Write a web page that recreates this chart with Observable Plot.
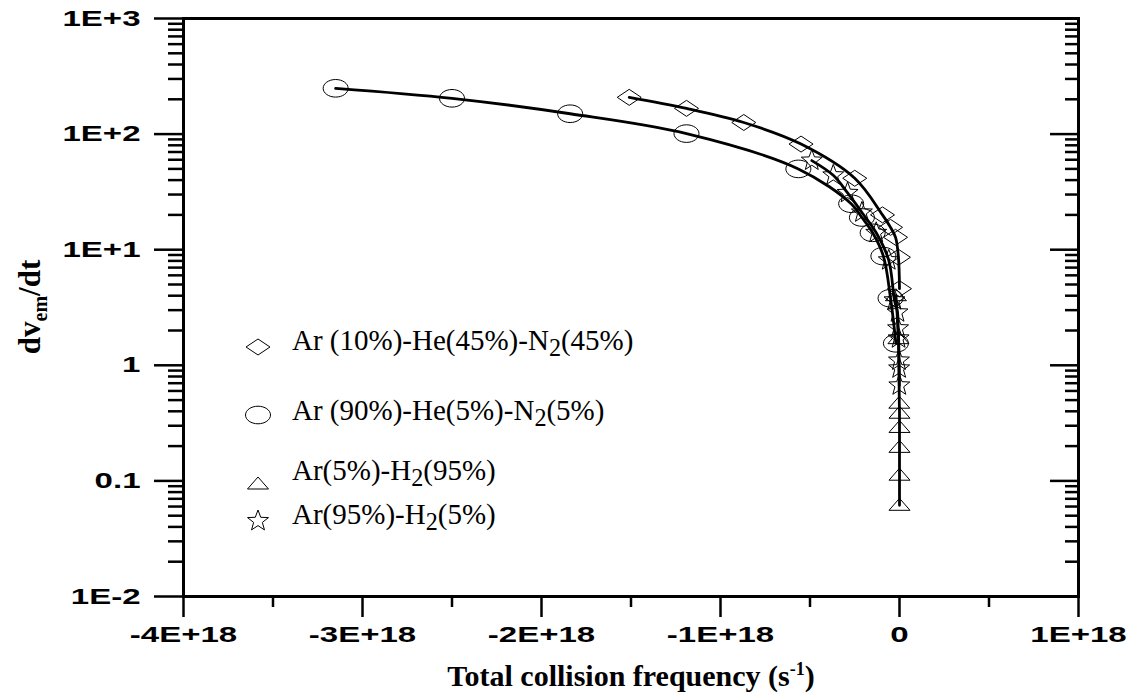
<!DOCTYPE html>
<html><head><meta charset="utf-8">
<script src="https://cdn.jsdelivr.net/npm/d3@7"></script>
<script src="https://cdn.jsdelivr.net/npm/@observablehq/plot@0.6"></script>
<style>
body{margin:0;background:#fff;}
#wrap{position:relative;width:1140px;height:698px;overflow:hidden;}
.ov{position:absolute;white-space:nowrap;color:#000;}
.serif{font-family:"Liberation Serif","Times New Roman",serif;}
.bold{font-weight:bold;}
sub,sup{line-height:0;}
</style></head><body><div id="wrap"></div>
<script>
// ---- data (x in s^-1, y = dv_em/dt) ----
const diamondX=[-1.51e18,-1.19e18,-0.87e18,-0.55e18,-0.25e18,-0.095e18,-0.05e18,-0.022e18,-0.006e18,0];
const diamondY=[208,167,126,82,41.5,20,15.6,12.8,8.6,4.6];
const circleX=[-3.15e18,-2.50e18,-1.84e18,-1.19e18,-0.565e18,-0.27e18,-0.21e18,-0.15e18,-0.09e18,-0.05e18,-0.02e18];
const circleY=[249,204,150,101,50,25,19,14,8.8,3.8,1.55];
const triX=[-0.02e18,-0.006e18,-0.001e18,0,0,0,0,0];
const triY=[4.0,1.7,0.47,0.385,0.29,0.195,0.112,0.0615];
const starX=[-0.49e18,-0.37e18,-0.29e18,-0.21e18,-0.13e18,-0.06e18,-0.028e18,-0.011e18,-0.008e18,-0.005e18,-0.003e18,-0.002e18,-0.001e18];
const starY=[59,44,31,21,14,8.1,3.65,2.87,2.09,1.71,1.1,0.94,0.67];

const seriesNames=["Ar (10%)-He(45%)-N2(45%)","Ar (90%)-He(5%)-N2(5%)","Ar(5%)-H2(95%)","Ar(95%)-H2(5%)"];
const legendHTML=["Ar (10%)-He(45%)-N<sub>2</sub>(45%)","Ar (90%)-He(5%)-N<sub>2</sub>(5%)","Ar(5%)-H<sub>2</sub>(95%)","Ar(95%)-H<sub>2</sub>(5%)"];

const yMajor=[0.01,0.1,1,10,100,1000];
const yLabels=["1E-2","0.1","1","1E+1","1E+2","1E+3"];
const xMajor=[-4e18,-3e18,-2e18,-1e18,0,1e18];
const xLabels=["-4E+18","-3E+18","-2E+18","-1E+18","0","1E+18"];
const xMinor=[-3.5e18,-2.5e18,-1.5e18,-0.5e18,0.5e18];
const yMinor=[];
for(const d of [0.01,0.1,1,10,100]) for(let k=2;k<=9;k++) yMinor.push(+(d*k).toPrecision(3));

// ---- symbols ----
const symEllipse={draw(c){const rx=12.5,ry=8.8,k=0.5523;c.moveTo(rx,0);c.bezierCurveTo(rx,ry*k,rx*k,ry,0,ry);c.bezierCurveTo(-rx*k,ry,-rx,ry*k,-rx,0);c.bezierCurveTo(-rx,-ry*k,-rx*k,-ry,0,-ry);c.bezierCurveTo(rx*k,-ry,rx,-ry*k,rx,0);c.closePath();}};
const symDiamond={draw(c){c.moveTo(0,-8);c.lineTo(12,0);c.lineTo(0,8);c.lineTo(-12,0);c.closePath();}};
const symTriangle={draw(c){c.moveTo(0,-7);c.lineTo(10.5,5);c.lineTo(-10.5,5);c.closePath();}};
const symStar={draw(c){const R=11,r=4.6;for(let i=0;i<10;i++){const a=-Math.PI/2+i*Math.PI/5,rr=i%2?r:R;const x=rr*Math.cos(a),y=rr*Math.sin(a);if(i)c.lineTo(x,y);else c.moveTo(x,y);}c.closePath();}};
const symbols=[symDiamond,symEllipse,symTriangle,symStar];

const xsAll=[diamondX,circleX,triX,starX], ysAll=[diamondY,circleY,triY,starY];
const data=[];
xsAll.forEach((xs,s)=>xs.forEach((x,i)=>data.push({s,x,y:ysAll[s][i]})));

const tickFont={fontFamily:"Liberation Sans, Arial, sans-serif",fontWeight:"bold",fontSize:22};
const plot=Plot.plot({
  width:1140,height:698,
  marginLeft:183,marginRight:62,marginTop:18,marginBottom:102,
  style:{background:"#fff",color:"#000",overflow:"visible"},
  x:{domain:[-4e18,1e18],axis:null},
  y:{type:"log",domain:[0.01,1000],axis:null},
  marks:[
    Plot.line(data,{x:"x",y:"y",z:"s",curve:"catmull-rom",stroke:"#000",strokeWidth:2.8}),
    Plot.dot(data,{x:"x",y:"y",symbol:d=>symbols[d.s],r:5,stroke:"#000",strokeWidth:1,fill:"none"}),
    Plot.axisY(yMajor,{anchor:"left",tickSize:29,strokeWidth:2.5,tickPadding:14,tickFormat:d=>yLabels[yMajor.indexOf(d)],label:null,...tickFont}),
    Plot.axisY(yMinor,{anchor:"left",tickSize:15,strokeWidth:2.5,text:null,label:null}),
    Plot.axisY(yMajor,{anchor:"right",tickSize:-29,strokeWidth:2.5,text:null,label:null}),
    Plot.axisY(yMinor,{anchor:"right",tickSize:-14,strokeWidth:2.5,text:null,label:null}),
    Plot.axisX(xMajor,{anchor:"bottom",tickSize:21,strokeWidth:2.5,tickPadding:9,tickFormat:d=>xLabels[xMajor.indexOf(d)],label:null,...tickFont}),
    Plot.axisX(xMinor,{anchor:"bottom",tickSize:11,strokeWidth:2.5,text:null,label:null}),
    Plot.frame({stroke:"#000",strokeWidth:3})
  ]
});
const wrap=document.getElementById("wrap");
wrap.appendChild(plot);
// widen the bold tick labels as in the reference
plot.querySelectorAll('g[aria-label$="tick label"] text').forEach(t=>{
  const w=t.getComputedTextLength();
  t.setAttribute("textLength",(w*1.5).toFixed(1));
  t.setAttribute("lengthAdjust","spacingAndGlyphs");
});

// axis titles
const xt=document.createElement("div");
xt.className="ov serif bold";
xt.style.cssText="left:631px;top:676px;transform:translate(-50%,-50%);font-size:30px;";
xt.innerHTML="Total collision frequency (s<sup style='font-size:18px'>-1</sup>)";
wrap.appendChild(xt);
const yt=document.createElement("div");
yt.className="ov serif bold";
yt.style.cssText="left:30px;top:307px;transform:translate(-50%,-50%) rotate(-90deg);font-size:31px;";
yt.innerHTML="dv<sub style='font-size:20px'>em</sub>/dt";
wrap.appendChild(yt);

// legend
const legTextY=[340,410,470,514], legMarkY=[347,415,484,521];
seriesNames.forEach((name,i)=>{
  const m=document.createElementNS("http://www.w3.org/2000/svg","svg");
  m.setAttribute("width",30);m.setAttribute("height",24);
  m.style.cssText=`position:absolute;left:${258-15}px;top:${legMarkY[i]-12}px;overflow:visible;`;
  const p=document.createElementNS("http://www.w3.org/2000/svg","path");
  const ctx=d3.path();symbols[i].draw(ctx);
  p.setAttribute("d",ctx.toString());p.setAttribute("transform","translate(15,12)");
  p.setAttribute("fill","none");p.setAttribute("stroke","#000");p.setAttribute("stroke-width","1");
  m.appendChild(p);wrap.appendChild(m);
  const t=document.createElement("div");
  t.className="ov serif";
  t.style.cssText=`left:292px;top:${legTextY[i]}px;transform:translateY(-50%);font-size:29px;`;
  t.innerHTML=legendHTML[i];
  wrap.appendChild(t);
});
</script></body></html>
